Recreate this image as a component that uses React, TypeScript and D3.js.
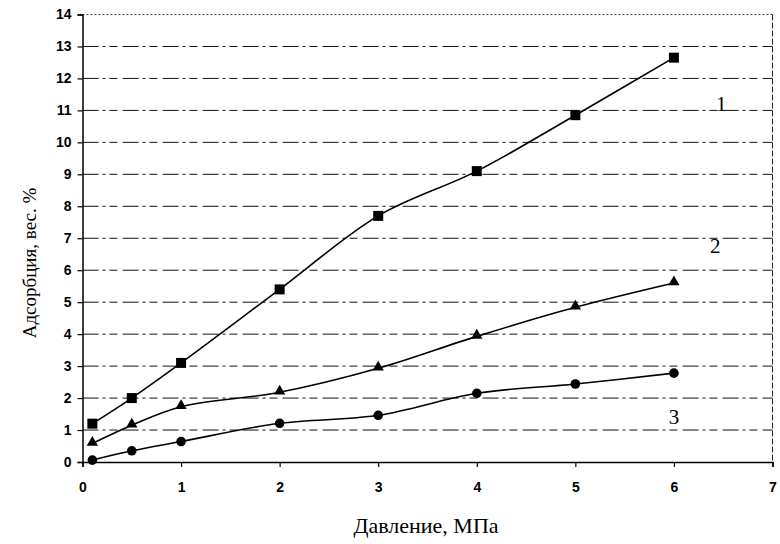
import React, { useEffect, useRef } from 'react';
import * as d3 from 'd3';

// pressure, MPa
const pressure = [0.1, 0.5, 1, 2, 3, 4, 5, 6];
// adsorption, wt. %
const series1 = [1.2, 2.0, 3.1, 5.4, 7.7, 9.1, 10.85, 12.65];
const series2 = [0.58, 1.15, 1.73, 2.18, 2.93, 3.93, 4.84, 5.6];
const series3 = [0.06, 0.35, 0.64, 1.21, 1.46, 2.15, 2.44, 2.78];
const seriesNames = ['1', '2', '3'];
const labelPos = [[6.48, 11.12], [6.42, 6.7], [6.0, 1.35]];
const xTicks = [0, 1, 2, 3, 4, 5, 6, 7];
const yTicks = d3.range(0, 15);

export default function App() {
    const ref = useRef<SVGSVGElement>(null);

    useEffect(() => {
        const svg = d3.select(ref.current);
        svg.selectAll('*').remove();

        const left = 82.5, right = 772.5, top = 14.5, bottom = 462;
        const x = d3.scaleLinear().domain([0, 7]).range([left, right]);
        const y = d3.scaleLinear().domain([0, 14]).range([bottom, top]);
        const serif = '"Liberation Serif", "DejaVu Serif", "Times New Roman", serif';

        // grid
        svg.append('g')
            .selectAll('line')
            .data(yTicks.filter(d => d > 0))
            .enter().append('line')
            .attr('x1', left).attr('x2', right)
            .attr('y1', d => y(d)).attr('y2', d => y(d))
            .attr('stroke', '#111')
            .attr('stroke-width', d => d === 14 ? 0.8 : 1)
            .attr('stroke-dasharray', d => d === 14 ? '2,2' : '16,4,3,4,8,5');

        // right frame
        svg.append('line')
            .attr('x1', right).attr('x2', right).attr('y1', top).attr('y2', bottom)
            .attr('stroke', '#222').attr('stroke-width', 1).attr('stroke-dasharray', '6,2');

        const font = '"Liberation Sans", Arial, sans-serif';

        const yAxis = svg.append('g')
            .attr('transform', 'translate(' + left + ',0)')
            .call(d3.axisLeft(y).tickValues(yTicks).tickFormat(d3.format('d')).tickSize(5).tickPadding(6));
        const xAxis = svg.append('g')
            .attr('transform', 'translate(0,' + bottom + ')')
            .call(d3.axisBottom(x).tickValues(xTicks).tickFormat(d3.format('d')).tickSize(5).tickPadding(15));

        [yAxis, xAxis].forEach(g => {
            g.select('.domain').attr('stroke', '#000').attr('stroke-width', 1.5);
            g.selectAll('.tick line').attr('stroke', '#000').attr('stroke-width', 1.2);
            g.selectAll('.tick text')
                .attr('fill', '#000')
                .attr('font-family', font)
                .attr('font-size', 14)
                .attr('font-weight', 'bold');
        });

        const line = d3.line<number>()
            .x((d, i) => x(pressure[i]))
            .y(d => y(d))
            .curve(d3.curveCatmullRom.alpha(0.5));

        const all = [series1, series2, series3];
        all.forEach(s => {
            svg.append('path')
                .attr('d', line(s))
                .attr('fill', 'none')
                .attr('stroke', '#000')
                .attr('stroke-width', 1.6);
        });

        // markers
        svg.append('g').selectAll('rect')
            .data(series1)
            .enter().append('rect')
            .attr('x', (d, i) => x(pressure[i]) - 5)
            .attr('y', d => y(d) - 5)
            .attr('width', 10).attr('height', 10)
            .attr('fill', '#000');

        const tri = d3.symbol().type(d3.symbolTriangle).size(55);
        svg.append('g').selectAll('path')
            .data(series2)
            .enter().append('path')
            .attr('d', tri)
            .attr('transform', (d, i) => 'translate(' + x(pressure[i]) + ',' + (y(d) - 1) + ')')
            .attr('fill', '#000');

        svg.append('g').selectAll('circle')
            .data(series3)
            .enter().append('circle')
            .attr('cx', (d, i) => x(pressure[i]))
            .attr('cy', d => y(d))
            .attr('r', 4.8)
            .attr('fill', '#000');

        // curve numbers
        svg.append('g').selectAll('text')
            .data(seriesNames)
            .enter().append('text')
            .attr('x', (d, i) => x(labelPos[i][0]))
            .attr('y', (d, i) => y(labelPos[i][1]))
            .attr('text-anchor', 'middle')
            .attr('dominant-baseline', 'middle')
            .attr('font-family', serif)
            .attr('font-size', 21)
            .attr('fill', '#000')
            .text(d => d);

        // axis titles
        svg.append('text')
            .attr('x', 426).attr('y', 533)
            .attr('text-anchor', 'middle')
            .attr('font-family', serif)
            .attr('font-size', 22)
            .text('Давление, МПа');

        svg.append('text')
            .attr('transform', 'translate(36,' + 263 + ') rotate(-90)')
            .attr('text-anchor', 'middle')
            .attr('font-family', serif)
            .attr('font-size', 19)
            .text('Адсорбция, вес. %');
    }, []);

    return (
        <svg ref={ref} width={780} height={544}
            style={{ position: 'absolute', left: 0, top: 0, background: '#fff' }} />
    );
}
